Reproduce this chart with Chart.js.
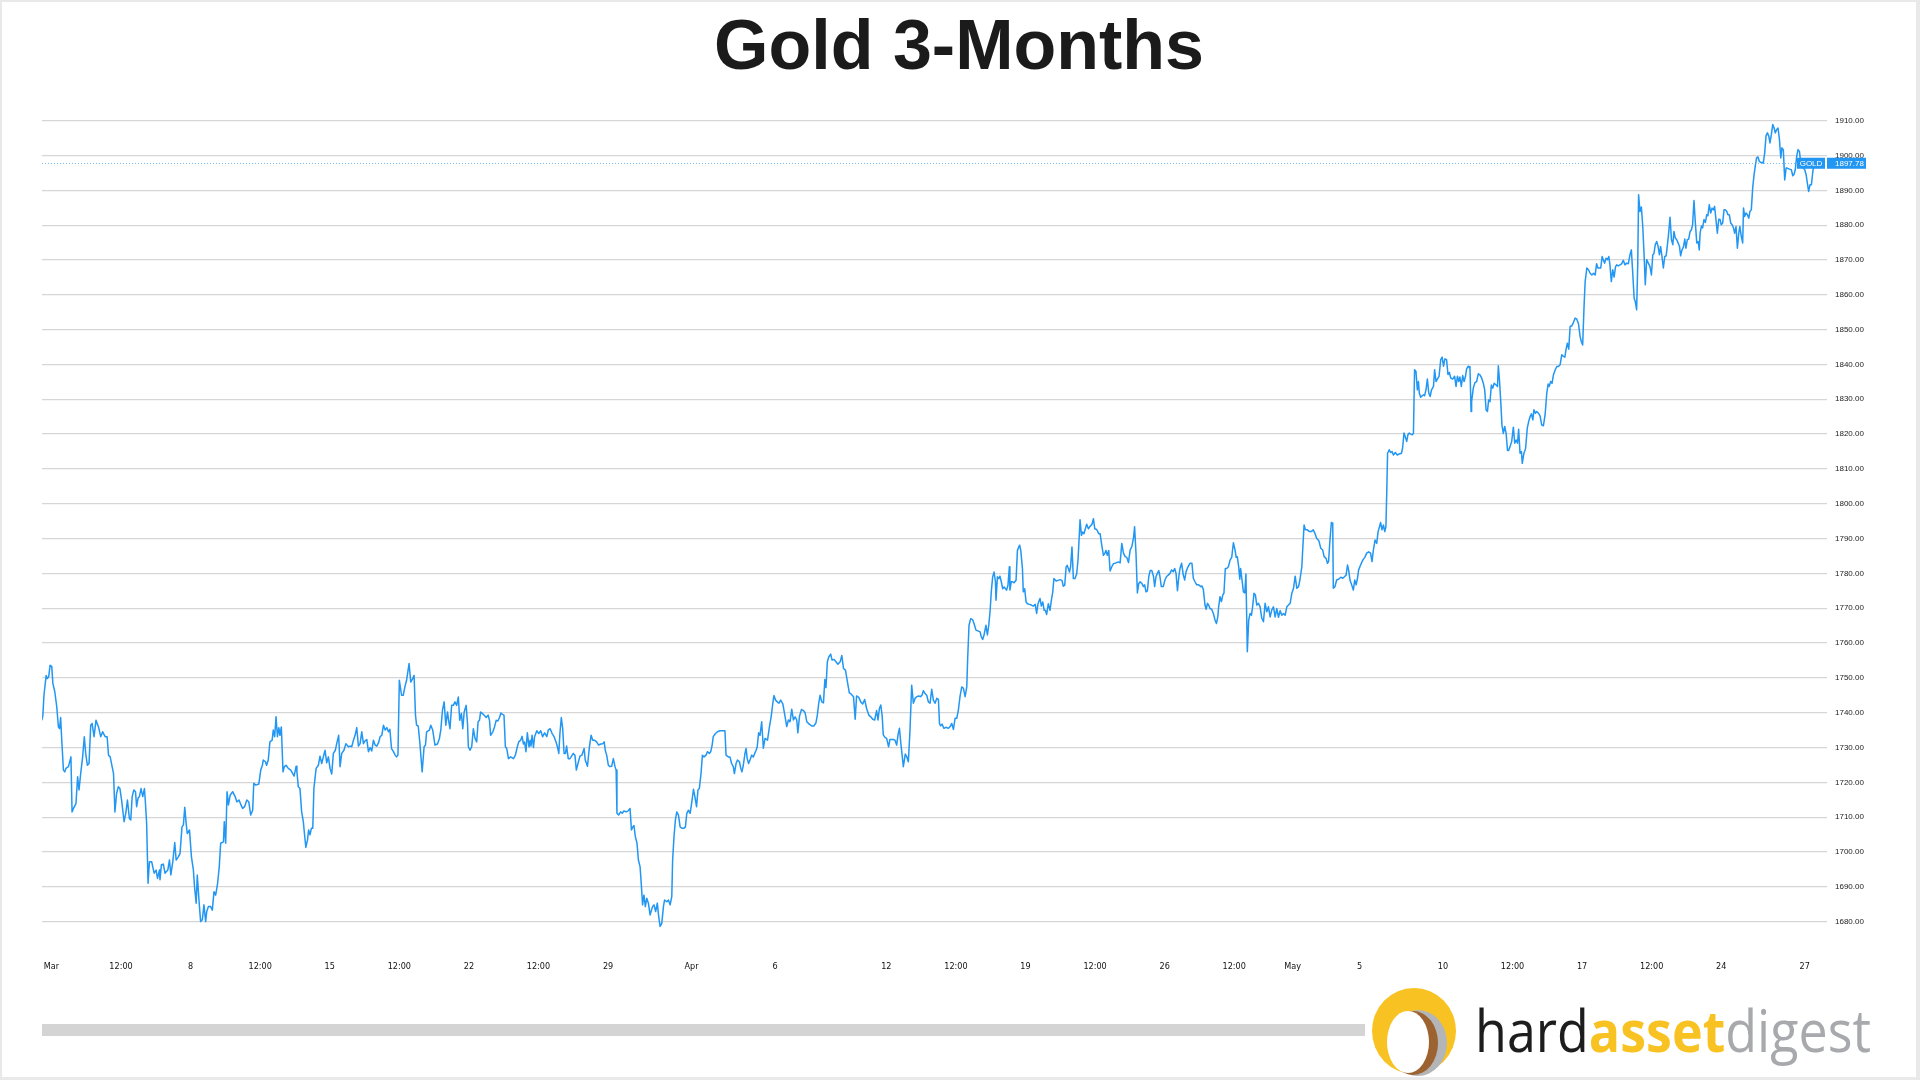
<!DOCTYPE html>
<html>
<head>
<meta charset="utf-8">
<title>Gold 3-Months</title>
<script src="https://cdn.jsdelivr.net/npm/chart.js@4.4.1/dist/chart.umd.min.js"></script>
<style>
  html, body { margin: 0; padding: 0; background: #e9e9e9; }
  #page { position: absolute; left: 2px; top: 2px; width: 1914px; height: 1075px; background: #fff; overflow: hidden; }
  #wrap { position: absolute; left: -2px; top: -2px; width: 1920px; height: 1080px; }
  #title { position: absolute; left: 0; top: 3px; width: 1914px; text-align: center;
           font: 700 70px "Liberation Sans", Arial, sans-serif; color: #1b1b1b; }
  #logo { position: absolute; left: -2px; top: -2px; }
</style>
</head>
<body>
<div id="page">
  <div id="wrap"><canvas id="chart" width="1920" height="1080"></canvas></div>
  <div id="title">Gold 3-Months</div>
  <svg id="logo" width="1920" height="1080">
    <rect x="42" y="1024" width="1323" height="12" fill="#d4d4d4"/>
    <ellipse cx="1414" cy="1031" rx="42" ry="43" fill="#f8c322"/>
    <ellipse cx="1418" cy="1043" rx="29" ry="33" fill="#b3b5b8"/>
    <ellipse cx="1413" cy="1043" rx="25" ry="32" fill="#9c6330"/>
    <ellipse cx="1408" cy="1042" rx="21" ry="31" fill="#ffffff"/>
    <text x="1475" y="1052" font-family="Open Sans, Lato, sans-serif" font-size="58" textLength="396" lengthAdjust="spacingAndGlyphs"><tspan fill="#1d1d1d">hard</tspan><tspan fill="#f8c322" font-weight="700">asset</tspan><tspan fill="#a7a9ac">digest</tspan></text>
  </svg>
</div>
<script>
// Gold 3-Months: spot price, x = trading days since Mar 1 (weekends skipped)

const LINE_BLUE = '#2196F3';
const GRID = '#d6d6d6';
const LAST_PRICE = 1897.78;
const SYMBOL = 'GOLD';

// x-axis tick positions (trading days) and their labels
const xTickDays = [0, 2.5, 5, 7.5, 10, 12.5, 15, 17.5, 20, 23, 26, 30, 32.5, 35, 37.5, 40, 42.5, 44.6, 47, 50, 52.5, 55, 57.5, 60, 63];
const xTickLabels = ['Mar', '12:00', '8', '12:00', '15', '12:00', '22', '12:00', '29', 'Apr', '6', '12', '12:00', '19', '12:00', '26', '12:00', 'May', '5', '10', '12:00', '17', '12:00', '24', '27'];
const yTicks = [1680, 1690, 1700, 1710, 1720, 1730, 1740, 1750, 1760, 1770, 1780, 1790, 1800, 1810, 1820, 1830, 1840, 1850, 1860, 1870, 1880, 1890, 1900, 1910];

// [trading day, price]
const marchEarly = [
  [-0.35,1737.8],[-0.31,1739.0],[-0.27,1745.0],[-0.19,1750.7],[-0.15,1749.8],[-0.10,1750.3],[-0.05,1753.6],[0.01,1753.3],[0.05,1748.4],[0.12,1746.0],
  [0.19,1741.7],[0.25,1735.9],[0.29,1735.4],[0.33,1738.6],[0.37,1732.1],[0.43,1723.5],[0.48,1723.0],[0.52,1724.0],[0.61,1724.5],[0.70,1727.3],
  [0.74,1711.5],[0.79,1712.5],[0.88,1713.9],[0.94,1721.6],[0.99,1717.8],[1.05,1722.5],[1.12,1727.3],[1.18,1733.1],[1.23,1728.3],[1.29,1724.9],
  [1.35,1725.4],[1.41,1736.4],[1.46,1736.9],[1.53,1733.1],[1.60,1737.8],[1.69,1735.9],[1.77,1733.1],[1.84,1734.5],[1.93,1733.1],[2.00,1733.1],
  [2.05,1727.8],[2.11,1727.3],[2.18,1724.5],[2.23,1722.5],[2.28,1711.5],[2.34,1716.8],[2.40,1718.7],[2.46,1718.2],[2.52,1714.9],[2.61,1708.7],
  [2.67,1711.1],[2.73,1714.9],[2.80,1709.6],[2.85,1709.2],[2.90,1715.9],[2.96,1717.8],[3.02,1717.3],[3.06,1713.0],[3.11,1715.4],[3.16,1715.9],
  [3.22,1718.2],[3.28,1715.9],[3.34,1718.2],[3.37,1714.9],[3.42,1708.2],[3.47,1691.0],[3.52,1697.2],[3.60,1697.2],[3.69,1693.9],[3.76,1694.8],
  [3.81,1692.4],[3.88,1694.8],[3.90,1692.0],[3.95,1696.3],[4.02,1696.5],[4.08,1693.9],[4.18,1694.8],[4.24,1697.7],[4.29,1693.4],[4.36,1697.2],
  [4.43,1702.7],[4.48,1697.7],[4.56,1698.6],[4.62,1699.6],[4.69,1707.2],[4.74,1707.7],[4.79,1712.8],[4.84,1708.2],[4.88,1705.3],[4.96,1706.3],
  [5.03,1698.6],[5.10,1694.8],[5.14,1690.0],[5.20,1685.3],[5.24,1693.4],[5.30,1686.2],[5.36,1680.0],[5.42,1680.5],[5.48,1684.8],[5.54,1680.0],
  [5.58,1682.9],[5.64,1684.3],[5.72,1684.3],[5.78,1683.3],[5.84,1688.6],[5.90,1687.6],[5.97,1691.0],[6.03,1695.8],[6.08,1702.5],[6.18,1702.9],
  [6.21,1708.7],[6.26,1702.5],[6.31,1717.3],[6.36,1713.5],[6.42,1716.3],[6.51,1717.3],[6.60,1715.9],[6.66,1714.4],[6.74,1714.9],[6.81,1713.5],
  [6.87,1712.5],[6.94,1713.0],[7.02,1714.9],[7.09,1714.4],[7.16,1710.6],[7.23,1712.0],[7.27,1719.7],[7.34,1719.2],[7.45,1719.5],[7.52,1723.5],
  [7.58,1724.9],[7.61,1726.4],[7.69,1725.9],[7.73,1724.9],[7.79,1726.4],[7.85,1731.6],[7.93,1732.1],[7.97,1735.0],[8.02,1733.1],[8.07,1738.8],
  [8.12,1733.1],[8.17,1735.7],[8.21,1733.5],[8.26,1735.9],[8.32,1723.0],[8.37,1724.5],[8.43,1724.9],[8.51,1724.0],[8.60,1723.5],[8.67,1722.5],
  [8.72,1721.8],[8.79,1724.6],[8.82,1723.0],[8.87,1718.7],[8.93,1718.2],[8.99,1711.5],[9.05,1708.7],[9.09,1705.3],[9.14,1701.3],[9.20,1703.4],
  [9.24,1706.3],[9.29,1704.9],[9.34,1706.8],[9.39,1706.8],[9.43,1718.2],[9.51,1724.0],[9.59,1724.9],[9.65,1727.5],[9.71,1725.4],[9.77,1727.3],
  [9.83,1729.2],[9.89,1725.6],[9.95,1727.3],[10.01,1724.0],[10.07,1722.4],[10.13,1728.3],[10.20,1729.2],[10.25,1731.1],[10.32,1733.5],[10.37,1724.5],
  [10.43,1728.3],[10.51,1729.2],[10.58,1731.1],[10.67,1730.2],[10.73,1730.4],[10.79,1730.2],[10.85,1732.1],[10.91,1733.5],[10.97,1735.7],[11.03,1730.4],
  [11.09,1731.1],[11.15,1734.5],[11.21,1731.1],[11.27,1731.9],[11.33,1732.3],[11.39,1728.8],[11.45,1730.0],[11.51,1729.0],[11.57,1732.1],[11.63,1730.7],
  [11.69,1730.4],[11.75,1731.3],[11.81,1733.1],[11.87,1733.5],[11.93,1736.4],[11.99,1735.0],[12.05,1735.7],[12.11,1734.5],[12.16,1735.2],[12.22,1729.7],
  [12.29,1728.8],[12.35,1727.8],[12.40,1727.3],[12.45,1727.8],[12.50,1749.3],[12.58,1745.0],[12.64,1745.0],[12.70,1747.4],[12.76,1749.3]
];

const marchLate = [
  [12.85,1754.1],[12.91,1748.8],[12.98,1749.8],[13.03,1750.7],[13.08,1739.3],[13.12,1736.4],[13.18,1736.1],[13.24,1731.1],[13.32,1723.0],[13.39,1730.2],
  [13.44,1730.7],[13.48,1734.5],[13.58,1735.0],[13.63,1736.4],[13.70,1735.0],[13.78,1730.7],[13.87,1731.0],[13.94,1732.6],[13.99,1735.0],[14.05,1740.7],
  [14.11,1743.1],[14.17,1736.4],[14.23,1740.2],[14.27,1737.8],[14.32,1735.4],[14.38,1742.1],[14.44,1742.1],[14.50,1743.1],[14.56,1742.1],[14.62,1744.5],
  [14.67,1737.8],[14.73,1739.8],[14.78,1735.4],[14.83,1740.2],[14.90,1742.1],[14.95,1736.9],[14.98,1730.2],[15.04,1729.2],[15.10,1730.2],[15.16,1735.4],
  [15.22,1732.6],[15.28,1731.6],[15.33,1737.4],[15.38,1737.8],[15.42,1740.2],[15.48,1739.8],[15.54,1739.3],[15.62,1738.6],[15.69,1739.3],[15.74,1737.8],
  [15.78,1733.5],[15.86,1734.5],[15.92,1735.9],[15.98,1737.8],[16.04,1737.6],[16.10,1738.6],[16.15,1739.9],[16.19,1739.6],[16.26,1739.3],[16.31,1730.2],
  [16.36,1729.7],[16.42,1726.8],[16.50,1727.3],[16.60,1726.8],[16.67,1727.8],[16.74,1730.2],[16.79,1731.6],[16.86,1732.1],[16.91,1733.2],[16.96,1731.0],
  [17.00,1731.6],[17.05,1728.8],[17.10,1734.2],[17.16,1730.2],[17.20,1732.1],[17.23,1730.4],[17.27,1733.5],[17.32,1730.0],[17.36,1733.1],[17.44,1734.8],
  [17.51,1734.0],[17.58,1734.8],[17.65,1733.1],[17.72,1734.2],[17.80,1733.1],[17.85,1735.0],[17.92,1735.4],[17.99,1734.0],[18.06,1733.1],[18.13,1731.6],
  [18.18,1730.2],[18.23,1728.3],[18.27,1734.0],[18.32,1738.6],[18.37,1735.4],[18.42,1728.3],[18.47,1728.3],[18.51,1730.4],[18.57,1726.8],[18.63,1726.8],
  [18.69,1727.5],[18.75,1728.3],[18.81,1727.8],[18.86,1723.5],[18.92,1725.4],[18.99,1727.5],[19.06,1727.8],[19.14,1729.7],[19.18,1726.4],[19.26,1724.6],
  [19.33,1730.2],[19.39,1733.5],[19.45,1732.1],[19.51,1732.1],[19.59,1731.6],[19.66,1730.7],[19.74,1731.0],[19.81,1731.1],[19.86,1731.6],[19.90,1729.2],
  [19.95,1727.8],[20.01,1724.9],[20.07,1724.5],[20.13,1724.6],[20.19,1726.8],[20.25,1724.5],[20.29,1723.5],[20.32,1711.1],[20.38,1710.6],[20.45,1711.5],
  [20.51,1711.1],[20.57,1711.8],[20.65,1711.5],[20.72,1711.8],[20.79,1712.5],[20.84,1706.3],[20.89,1707.2],[20.93,1707.6],[20.98,1704.4],[21.04,1702.5],
  [21.09,1697.7],[21.15,1695.8],[21.20,1690.0],[21.24,1684.8],[21.29,1687.6],[21.34,1684.3],[21.39,1686.7],[21.45,1685.3],[21.51,1681.9],[21.56,1683.3],
  [21.60,1684.3],[21.65,1684.8],[21.71,1682.9],[21.77,1685.3],[21.82,1681.4],[21.87,1678.6],[21.93,1679.5],[21.99,1684.3],[22.03,1686.2],[22.11,1685.7],
  [22.17,1686.2],[22.23,1684.8],[22.29,1687.2],[22.32,1697.7],[22.37,1704.4],[22.42,1709.2],[22.47,1711.5],[22.53,1710.6],[22.59,1707.2],[22.65,1706.8],
  [22.73,1706.8],[22.78,1707.2],[22.83,1711.1],[22.89,1712.0],[22.95,1711.1]
];

const april = [
  [23.01,1714.4],[23.07,1718.0],[23.12,1715.9],[23.18,1713.0],[23.23,1717.8],[23.28,1718.2],[23.34,1722.5],[23.39,1727.8],[23.45,1727.3],[23.52,1727.8],
  [23.57,1728.8],[23.64,1728.3],[23.69,1728.8],[23.74,1730.7],[23.78,1733.1],[23.86,1734.0],[23.93,1734.5],[24.02,1734.8],[24.14,1734.8],[24.20,1734.8],
  [24.24,1727.8],[24.32,1727.3],[24.38,1727.3],[24.44,1725.4],[24.50,1724.5],[24.54,1722.5],[24.60,1725.4],[24.65,1726.4],[24.72,1725.9],[24.77,1724.0],
  [24.81,1723.0],[24.86,1724.9],[24.92,1728.3],[24.96,1729.7],[25.00,1726.8],[25.05,1725.4],[25.10,1726.4],[25.16,1727.8],[25.22,1727.3],[25.27,1728.3],
  [25.32,1729.2],[25.36,1730.2],[25.41,1734.2],[25.46,1733.5],[25.52,1737.4],[25.58,1729.8],[25.64,1732.6],[25.73,1732.1],[25.80,1736.0],[25.86,1738.8],
  [25.92,1742.7],[25.96,1744.9],[26.02,1743.6],[26.08,1743.1],[26.14,1742.7],[26.20,1743.6],[26.28,1742.5],[26.32,1740.7],[26.37,1738.4],[26.42,1736.0],
  [26.48,1737.9],[26.54,1737.4],[26.60,1741.0],[26.66,1737.9],[26.72,1738.8],[26.78,1737.9],[26.82,1734.2],[26.88,1739.0],[26.95,1740.9],[27.02,1740.6],
  [27.08,1740.0],[27.14,1737.4],[27.23,1736.7],[27.32,1736.2],[27.40,1736.2],[27.47,1737.1],[27.52,1739.3],[27.57,1742.7],[27.62,1745.0],[27.68,1743.1],
  [27.74,1742.8],[27.79,1749.5],[27.83,1747.2],[27.88,1754.6],[27.93,1756.0],[28.00,1756.8],[28.05,1755.1],[28.12,1755.3],[28.19,1754.6],[28.26,1753.9],
  [28.34,1754.6],[28.40,1756.4],[28.46,1752.7],[28.53,1752.2],[28.60,1748.9],[28.67,1745.7],[28.74,1745.3],[28.82,1744.6],[28.88,1738.1],[28.93,1744.8],
  [29.01,1744.4],[29.08,1743.1],[29.15,1742.5],[29.22,1743.8],[29.29,1741.2],[29.37,1739.3],[29.44,1738.8],[29.51,1738.1],[29.58,1737.9],[29.65,1740.6],
  [29.70,1737.9],[29.75,1741.2],[29.80,1742.2],[29.85,1739.0],[29.89,1733.6],[29.95,1732.9],[30.01,1732.6],[30.08,1730.2],[30.13,1732.3],[30.19,1732.3],
  [30.25,1732.3],[30.31,1732.1],[30.37,1730.7],[30.42,1733.6],[30.47,1735.5],[30.52,1731.2],[30.56,1728.3],[30.61,1724.5],[30.68,1728.1],[30.73,1727.4],
  [30.79,1725.9],[30.85,1735.0],[30.91,1747.9],[30.97,1742.7],[31.03,1744.1],[31.09,1744.6],[31.16,1744.8],[31.23,1744.6],[31.28,1745.0],[31.33,1746.3],
  [31.39,1745.5],[31.45,1745.0],[31.51,1743.1],[31.57,1742.7],[31.63,1746.7],[31.69,1743.6],[31.75,1742.7],[31.81,1744.1],[31.87,1743.8],[31.91,1736.9],
  [31.95,1736.2],[32.00,1736.7],[32.07,1735.5],[32.14,1735.8],[32.23,1735.5],[32.29,1736.0],[32.35,1736.9],[32.41,1735.2],[32.47,1738.4],[32.53,1738.4],
  [32.59,1740.9],[32.65,1744.8],[32.71,1747.4],[32.77,1747.0],[32.83,1744.6],[32.89,1747.4],[32.92,1755.1],[32.97,1765.1],[33.03,1767.0],[33.10,1766.7],
  [33.15,1765.6],[33.22,1763.7],[33.29,1763.5],[33.37,1763.2],[33.41,1761.8],[33.46,1761.0],[33.51,1762.3],[33.58,1765.1],[33.63,1762.3],[33.68,1765.1],
  [33.73,1769.4],[33.77,1774.7],[33.82,1779.0],[33.87,1780.4],[33.92,1777.6],[33.94,1772.3],[33.99,1779.0],[34.04,1778.5],[34.08,1779.2],[34.13,1777.6],
  [34.18,1775.6],[34.23,1776.1],[34.28,1775.6],[34.32,1775.2],[34.37,1776.6],[34.42,1781.9],[34.44,1775.2],[34.49,1777.6],[34.54,1777.6],[34.59,1777.3],
  [34.66,1778.0],[34.71,1786.6],[34.76,1787.6],[34.79,1788.1],[34.83,1786.6],[34.89,1781.4],[34.92,1774.7],[34.97,1775.6],[35.02,1771.8],[35.07,1771.3],
  [35.14,1771.1],[35.21,1770.9],[35.28,1770.6],[35.35,1771.1],[35.40,1768.5],[35.45,1771.3],[35.52,1772.8],[35.57,1770.6],[35.62,1771.8],[35.67,1769.4],
  [35.71,1769.4],[35.76,1768.2],[35.82,1771.3],[35.88,1769.4],[35.93,1772.3],[35.98,1774.7],[36.02,1778.5],[36.10,1777.8],[36.17,1778.0],[36.24,1778.2],
  [36.31,1778.0],[36.36,1776.3],[36.41,1776.6],[36.46,1781.9],[36.50,1782.3],[36.58,1780.4],[36.62,1781.9],[36.67,1787.6],[36.72,1778.5],[36.78,1778.5],
  [36.84,1779.9],[36.89,1784.2],[36.93,1790.5],[36.96,1795.4],[37.01,1790.9],[37.05,1791.9],[37.10,1791.4],[37.15,1792.8],[37.20,1794.1],[37.26,1792.8],
  [37.32,1793.5],[37.39,1794.1],[37.44,1795.7],[37.49,1792.8],[37.56,1792.6],[37.63,1791.4],[37.68,1791.4],[37.74,1788.1],[37.80,1785.2],[37.85,1785.7],
  [37.89,1786.6],[37.94,1785.2],[37.99,1786.6],[38.04,1780.7],[38.10,1781.9],[38.16,1782.8],[38.25,1783.0],[38.34,1783.3],[38.40,1783.0],[38.46,1788.6],
  [38.52,1785.8],[38.58,1784.8],[38.64,1784.6],[38.70,1783.1],[38.76,1786.7],[38.82,1787.7],[38.88,1790.1],[38.92,1793.4],[38.97,1785.8],[39.02,1774.4],
  [39.07,1777.1],[39.12,1777.6],[39.18,1777.1],[39.24,1776.2],[39.28,1776.7],[39.33,1774.7],[39.38,1775.0],[39.43,1779.1],[39.48,1780.8],[39.54,1780.8],
  [39.60,1779.1],[39.64,1776.2],[39.69,1779.1],[39.74,1780.0],[39.79,1780.8],[39.83,1779.1],[39.88,1776.2],[39.95,1776.2],[40.01,1778.1],[40.07,1779.1],
  [40.13,1779.5],[40.19,1780.0],[40.25,1781.0],[40.31,1780.5],[40.36,1781.4],[40.41,1780.0],[40.46,1775.0],[40.51,1779.1],[40.55,1781.4],[40.61,1782.9],
  [40.67,1779.5],[40.72,1778.1],[40.77,1780.5],[40.84,1781.9],[40.91,1782.9],[40.98,1782.9],[41.03,1778.6],[41.09,1777.6],[41.15,1776.7],[41.22,1776.7],
  [41.30,1776.2],[41.34,1776.4],[41.39,1775.4],[41.45,1770.9],[41.49,1769.7],[41.54,1771.4],[41.58,1770.9],[41.63,1769.9],[41.69,1769.7],[41.75,1768.5],
  [41.81,1766.6],[41.86,1765.6],[41.91,1767.5],[41.94,1770.4],[41.99,1773.3],[42.04,1771.9],[42.09,1773.8],[42.13,1774.3],[42.18,1781.4],[42.23,1781.4],
  [42.29,1781.9],[42.35,1783.8],[42.41,1784.6],[42.47,1788.8],[42.53,1786.7],[42.57,1784.6],[42.61,1784.8],[42.66,1781.9],[42.70,1778.3],[42.73,1781.4],
  [42.78,1778.1],[42.83,1774.7],[42.88,1774.4],[42.92,1779.8],[42.97,1757.5],[43.02,1766.6],[43.07,1768.5],[43.12,1768.0],[43.16,1770.4],[43.21,1774.3],
  [43.26,1773.8],[43.31,1770.9],[43.37,1771.4],[43.43,1770.4],[43.49,1767.1],[43.55,1766.1],[43.61,1771.4],[43.67,1769.0],[43.73,1770.4],[43.79,1767.5],
  [43.85,1769.5],[43.91,1770.4],[43.97,1767.5],[44.03,1769.9],[44.09,1767.4],[44.15,1769.3],[44.21,1768.0],[44.27,1768.5],[44.33,1768.0],[44.39,1770.4],
  [44.45,1770.9],[44.51,1771.4],[44.57,1774.3],[44.63,1775.7],[44.69,1779.2],[44.75,1775.7],[44.81,1776.2],[44.86,1778.1],[44.93,1781.9],[44.96,1786.7]
];

const mayEarly = [
  [45.01,1793.9],[45.06,1792.5],[45.13,1792.5],[45.20,1792.0],[45.27,1792.0],[45.34,1792.5],[45.40,1791.5],[45.46,1790.1],[45.54,1789.4],[45.61,1787.2],
  [45.68,1786.7],[45.73,1784.8],[45.80,1784.3],[45.85,1782.9],[45.89,1783.4],[45.94,1789.6],[45.99,1794.6],[46.04,1794.4],[46.06,1775.7],[46.12,1776.2],
  [46.18,1778.1],[46.25,1778.3],[46.33,1778.9],[46.40,1778.6],[46.47,1779.1],[46.52,1779.5],[46.57,1782.4],[46.61,1781.0],[46.66,1778.1],[46.72,1776.7],
  [46.78,1775.2],[46.83,1778.1],[46.88,1776.7],[46.93,1778.6],[46.97,1781.0],[47.04,1782.4],[47.12,1783.8],[47.19,1784.6],[47.26,1785.8],[47.33,1786.2],
  [47.40,1785.8],[47.45,1783.4],[47.50,1786.7],[47.56,1789.6],[47.62,1788.6],[47.67,1792.0],[47.72,1793.4],[47.76,1794.6],[47.81,1792.5],[47.86,1793.9],
  [47.91,1792.0],[47.95,1793.4],[47.98,1803.0],[48.01,1814.5],[48.07,1815.5],[48.12,1814.7],[48.17,1815.0],[48.22,1814.0],[48.29,1814.7],[48.36,1814.0],
  [48.43,1814.3],[48.51,1814.5],[48.55,1816.0],[48.60,1820.3],[48.65,1819.1],[48.70,1817.9],[48.74,1819.8],[48.79,1820.3],[48.84,1820.0],[48.90,1819.8],
  [48.94,1820.3],[48.98,1838.5],[49.03,1838.0],[49.08,1832.7],[49.12,1835.1],[49.15,1831.8],[49.20,1830.6],[49.25,1831.0],[49.30,1831.3],[49.34,1831.0],
  [49.39,1832.7],[49.44,1835.8],[49.49,1831.8],[49.54,1830.8],[49.59,1832.7],[49.66,1833.7],[49.70,1838.5],[49.75,1835.1],[49.80,1835.8],[49.86,1836.6],
  [49.92,1841.4],[49.97,1842.1],[50.02,1839.5],[50.07,1841.6],[50.13,1841.4],[50.18,1837.1],[50.23,1837.7],[50.28,1836.1],[50.35,1835.8],[50.42,1836.6],
  [50.47,1833.7],[50.52,1836.6],[50.57,1835.1],[50.61,1836.4],[50.66,1833.7],[50.71,1836.8],[50.76,1835.1],[50.81,1836.6],[50.85,1838.7],[50.91,1839.5],
  [50.95,1839.0],[50.97,1839.4],[51.01,1826.5],[51.03,1829.3],[51.09,1833.2],[51.15,1834.8],[51.21,1835.1],[51.27,1837.3],[51.33,1837.0],[51.39,1836.1],
  [51.45,1834.6],[51.50,1832.7],[51.55,1827.0],[51.60,1826.5],[51.64,1829.8],[51.69,1829.3],[51.74,1834.1],[51.79,1833.2],[51.84,1834.6],[51.91,1834.1],
  [51.96,1833.7],[51.99,1839.6],[52.03,1835.6],[52.08,1828.9],[52.12,1822.6],[52.17,1820.2],[52.22,1822.2],[52.27,1820.2],[52.32,1815.3],[52.36,1815.3],
  [52.41,1816.4],[52.47,1817.9],[52.53,1822.0],[52.58,1817.4],[52.63,1818.3],[52.68,1817.4],[52.72,1821.4],[52.77,1814.5],[52.82,1815.0],[52.85,1811.6],
  [52.91,1814.5],[52.97,1815.9],[53.03,1821.7],[53.08,1823.6],[53.13,1825.0],[53.18,1825.8],[53.23,1824.1],[53.27,1827.0],[53.32,1826.0],[53.37,1826.5],
  [53.43,1826.0],[53.49,1825.2],[53.55,1822.6],[53.61,1822.4],[53.67,1825.5],[53.73,1831.7],[53.78,1834.4],[53.82,1833.7],[53.87,1835.1],[53.92,1834.6],
  [53.97,1837.0],[54.03,1838.4],[54.09,1839.4],[54.15,1839.4],[54.21,1839.9],[54.27,1842.8],[54.33,1842.3],[54.38,1842.1],[54.42,1844.2],[54.47,1846.1],
  [54.52,1844.4],[54.57,1850.9],[54.63,1851.1],[54.69,1852.1],[54.75,1853.3],[54.81,1853.0],[54.87,1851.7],[54.93,1848.0],[54.97,1846.6],[55.02,1845.6]
];

const mayLate = [
  [55.07,1856.6],[55.11,1863.8],[55.17,1867.7],[55.23,1867.2],[55.29,1866.2],[55.35,1865.7],[55.41,1866.2],[55.47,1865.7],[55.52,1868.9],[55.57,1867.7],
  [55.62,1867.7],[55.67,1867.7],[55.72,1871.0],[55.76,1870.1],[55.81,1869.1],[55.86,1870.5],[55.91,1870.1],[55.96,1871.0],[56.00,1868.6],[56.05,1863.8],
  [56.10,1867.2],[56.15,1865.1],[56.20,1868.0],[56.24,1868.6],[56.30,1868.3],[56.36,1868.6],[56.42,1868.9],[56.48,1869.9],[56.54,1868.6],[56.60,1869.1],
  [56.66,1868.9],[56.72,1871.5],[56.77,1872.9],[56.82,1866.2],[56.87,1859.0],[56.91,1858.1],[56.96,1855.7],[57.00,1869.1],[57.03,1888.7],[57.08,1883.9],
  [57.13,1885.2],[57.18,1879.6],[57.23,1871.0],[57.27,1862.9],[57.32,1870.1],[57.38,1869.1],[57.44,1868.1],[57.49,1865.7],[57.54,1871.5],[57.58,1871.8],
  [57.63,1874.4],[57.68,1875.3],[57.73,1873.9],[57.78,1871.5],[57.82,1873.9],[57.87,1871.0],[57.92,1867.7],[57.97,1871.0],[58.02,1871.2],[58.06,1873.9],
  [58.11,1877.7],[58.16,1882.3],[58.21,1875.8],[58.26,1874.4],[58.30,1878.2],[58.35,1876.3],[58.40,1875.8],[58.45,1874.9],[58.50,1873.9],[58.54,1871.2],
  [58.59,1872.9],[58.64,1873.7],[58.69,1876.0],[58.73,1873.4],[58.78,1875.8],[58.83,1876.0],[58.88,1878.2],[58.93,1878.7],[58.97,1880.1],[59.02,1887.1],
  [59.07,1880.6],[59.12,1874.9],[59.17,1875.3],[59.21,1872.9],[59.24,1877.7],[59.29,1879.8],[59.33,1879.2],[59.38,1881.6],[59.43,1880.8],[59.48,1883.0],
  [59.52,1882.7],[59.57,1885.9],[59.62,1883.5],[59.67,1884.9],[59.72,1884.4],[59.76,1885.4],[59.81,1881.6],[59.86,1877.7],[59.91,1881.7],[59.96,1881.6],
  [60.00,1880.1],[60.05,1880.6],[60.10,1884.4],[60.15,1884.4],[60.20,1883.9],[60.24,1883.0],[60.29,1883.0],[60.34,1880.6],[60.39,1880.1],[60.44,1879.2],
  [60.48,1877.7],[60.53,1879.6],[60.58,1873.4],[60.63,1877.7],[60.67,1879.6],[60.72,1876.8],[60.77,1874.9],[60.80,1884.9],[60.84,1882.5],[60.89,1883.5],
  [60.94,1883.0],[60.99,1882.0],[61.03,1883.9],[61.08,1884.4],[61.13,1890.7],[61.18,1894.5],[61.23,1897.4],[61.27,1899.3],[61.32,1899.6],[61.37,1898.3],
  [61.42,1898.0],[61.47,1898.0],[61.51,1897.8],[61.56,1900.7],[61.61,1905.7],[61.66,1906.5],[61.71,1905.5],[61.75,1903.6],[61.80,1906.0],[61.85,1908.9],
  [61.90,1907.9],[61.94,1906.5],[61.99,1907.4],[62.04,1907.9],[62.09,1904.7],[62.14,1899.3],[62.18,1902.2],[62.23,1901.7],[62.28,1893.0],[62.33,1896.4],
  [62.37,1896.4],[62.45,1896.1],[62.52,1895.9],[62.57,1894.2],[62.61,1894.5],[62.66,1895.9],[62.71,1899.8],[62.76,1901.7],[62.81,1901.2],[62.85,1898.3],
  [62.90,1896.9],[62.95,1896.4],[63.00,1895.9],[63.05,1894.5],[63.09,1892.3],[63.14,1889.7],[63.19,1891.6],[63.24,1891.6],[63.29,1895.4],[63.33,1897.4],
  [63.36,1897.78]
];

const series = [...marchEarly, ...marchLate, ...april, ...mayEarly, ...mayLate].map(([x, y]) => ({ x, y }));

// Línea punteada del último precio + etiquetas "GOLD" / precio
const priceTag = {
  id: 'priceTag',
  beforeDatasetsDraw(chart) {
    const { ctx, chartArea, scales } = chart;
    const y = Math.round(scales.y.getPixelForValue(LAST_PRICE)) + 0.5;
    ctx.save();
    ctx.strokeStyle = '#7fbdf5';
    ctx.lineWidth = 1;
    ctx.setLineDash([1, 2]);
    ctx.beginPath();
    ctx.moveTo(chartArea.left, y);
    ctx.lineTo(chartArea.right, y);
    ctx.stroke();
    ctx.restore();
  },
  afterDraw(chart) {
    const { ctx, chartArea, scales } = chart;
    const y = scales.y.getPixelForValue(LAST_PRICE);
    const h = 11;
    ctx.save();
    ctx.fillStyle = LINE_BLUE;
    ctx.fillRect(chartArea.right - 30, y - h / 2, 28, h);
    ctx.fillRect(chartArea.right, y - h / 2, 39, h);
    ctx.fillStyle = '#fff';
    ctx.font = '8px "Liberation Sans", Arial, sans-serif';
    ctx.textBaseline = 'middle';
    ctx.textAlign = 'center';
    ctx.fillText(SYMBOL, chartArea.right - 16, y + 0.5);
    ctx.textAlign = 'left';
    ctx.fillText(LAST_PRICE.toFixed(2), chartArea.right + 8, y + 0.5);
    ctx.restore();
  }
};

new Chart(document.getElementById('chart'), {
  type: 'line',
  data: {
    datasets: [{
      data: series,
      borderColor: LINE_BLUE,
      borderWidth: 1.5,
      pointRadius: 0,
      tension: 0,
      fill: false,
      borderJoinStyle: 'round'
    }]
  },
  options: {
    responsive: false,
    animation: false,
    events: [],
    layout: { padding: { left: 42, top: 112, right: 0, bottom: 0 } },
    plugins: { legend: { display: false }, tooltip: { enabled: false }, title: { display: false } },
    scales: {
      x: {
        type: 'linear',
        min: -0.34,
        max: 63.8,
        grid: { display: false, drawTicks: false },
        border: { display: false },
        afterBuildTicks: (scale) => { scale.ticks = xTickDays.map((v) => ({ value: v })); },
        afterFit: (scale) => { scale.height = 141; },
        ticks: {
          autoSkip: false,
          maxRotation: 0,
          padding: 22,
          color: '#111',
          font: { family: '"Liberation Sans Narrow", "DejaVu Sans Condensed", "Liberation Sans", sans-serif', size: 9 },
          callback: (v, i) => xTickLabels[i]
        }
      },
      y: {
        position: 'right',
        min: 1675,
        max: 1912.5,
        grid: { color: GRID, lineWidth: 1.2, drawTicks: false },
        border: { display: false },
        afterBuildTicks: (scale) => { scale.ticks = yTicks.map((v) => ({ value: v })); },
        afterFit: (scale) => { scale.width = 93; },
        ticks: {
          padding: 8,
          color: '#222',
          font: { family: '"Liberation Sans", Arial, sans-serif', size: 8 },
          callback: (v) => Number(v).toFixed(2)
        }
      }
    }
  },
  plugins: [priceTag]
});
</script>
</body>
</html>
